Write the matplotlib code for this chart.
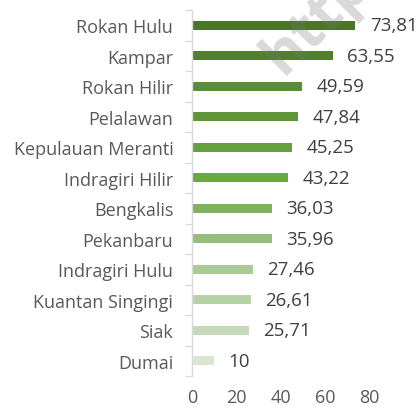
import matplotlib
matplotlib.use("Agg")
import matplotlib.pyplot as plt
import numpy as np

plt.rcParams['font.family'] = ['Open Sans', 'DejaVu Sans']

regions = ["Rokan Hulu", "Kampar", "Rokan Hilir", "Pelalawan",
           "Kepulauan Meranti", "Indragiri Hilir", "Bengkalis", "Pekanbaru",
           "Indragiri Hulu", "Kuantan Singingi", "Siak", "Dumai"]
values = [73.81, 63.55, 49.59, 47.84, 45.25, 43.22, 36.03, 35.96,
          27.46, 26.61, 25.71, 10]
value_labels = ["73,81", "63,55", "49,59", "47,84", "45,25", "43,22",
                "36,03", "35,96", "27,46", "26,61", "25,71", "10"]
bar_colors = ["#4b752b", "#517f2f", "#5a8d36", "#5f9539", "#659f3f", "#6aa843",
              "#7fb25c", "#95bd7c", "#a8cb96", "#b6d3a6", "#c6dbba", "#d9e7d1"]

fig = plt.figure(figsize=(4.18, 4.10), dpi=100)
ax = fig.add_axes([192/418, 1 - 377/410, 177/418, 366/410])

y = np.arange(len(regions))
ax.barh(y, values, height=0.3, color=bar_colors, zorder=2)

for yi, v, lab in zip(y, values, value_labels):
    ax.annotate(lab, (v, yi), xytext=(10.5, 0), textcoords="offset points",
                va="center", ha="left", fontsize=13.5, color="#404040")

ax.set_ylim(len(regions) - 0.5, -0.5)
ax.set_xlim(0, 80)
ax.set_xticks([0, 20, 40, 60, 80])
ax.set_yticks(y)
ax.set_yticklabels(regions)
ax.set_yticks(np.arange(-0.5, len(regions)), minor=True)

ax.tick_params(axis="y", which="major", length=0, pad=13.5,
               labelsize=13, labelcolor="#595959")
ax.tick_params(axis="y", which="minor", length=5, width=1, color="#d9d9d9")
ax.tick_params(axis="x", length=0, pad=9, labelsize=13, labelcolor="#595959")

for side in ["top", "right", "bottom"]:
    ax.spines[side].set_visible(False)
ax.spines["left"].set_color("#d9d9d9")
ax.spines["left"].set_linewidth(1)

# watermark
fig.text(283/418, 1 - 76/410, "https://riau.bps.go.id", rotation=45,
         rotation_mode="anchor", ha="left", va="baseline", fontsize=42,
         fontweight="bold", color="#777777", alpha=0.28, zorder=5)

fig.savefig("out.png", dpi=100)
